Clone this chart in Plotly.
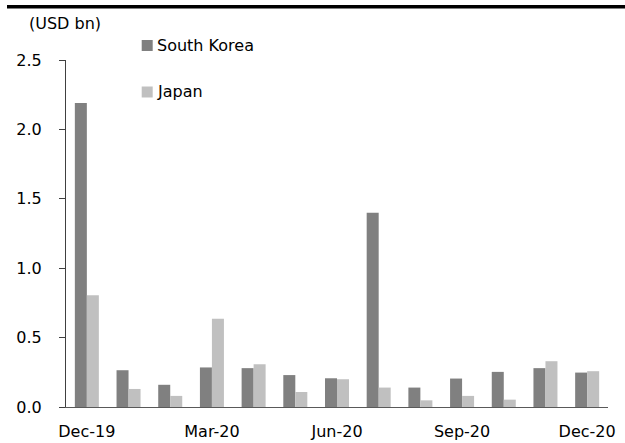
import plotly.graph_objects as go

months = ["Dec-19", "Jan-20", "Feb-20", "Mar-20", "Apr-20", "May-20", "Jun-20",
          "Jul-20", "Aug-20", "Sep-20", "Oct-20", "Nov-20", "Dec-20"]
south_korea = [2.19, 0.265, 0.16, 0.285, 0.28, 0.23, 0.207, 1.40, 0.14, 0.205, 0.253, 0.28, 0.248]
japan = [0.805, 0.13, 0.08, 0.635, 0.308, 0.108, 0.20, 0.14, 0.048, 0.08, 0.053, 0.33, 0.258]
tick_labels = ["Dec-19", "Mar-20", "Jun-20", "Sep-20", "Dec-20"]
y_ticks = [0, 0.5, 1.0, 1.5, 2.0, 2.5]

SK_COLOR = "#808080"
JP_COLOR = "#c0c0c0"
FONT = "DejaVu Sans"

fig = go.Figure()
fig.add_trace(go.Bar(x=months, y=south_korea, name="South Korea",
                     marker=dict(color=SK_COLOR, line=dict(width=0))))
fig.add_trace(go.Bar(x=months, y=japan, name="Japan",
                     marker=dict(color=JP_COLOR, line=dict(width=0))))

W, H = 625, 443
L, R, T, B = 66, 17, 60, 36
pw, ph = W - L - R, H - T - B

def px_x(x):
    return (x - L) / pw

def px_y(y):
    return (H - B - y) / ph

fig.update_layout(
    width=W, height=H,
    margin=dict(l=L, r=R, t=T, b=B, autoexpand=False),
    paper_bgcolor="white", plot_bgcolor="white",
    barmode="group", bargap=0.424, bargroupgap=0,
    showlegend=False,
    font=dict(family=FONT, size=16, color="#000000"),
    xaxis=dict(type="category", tickmode="array", tickvals=tick_labels, ticktext=tick_labels,
               showline=True, linecolor="#595959", linewidth=1, ticks="",
               showgrid=False, zeroline=False, ticklabelstandoff=10, automargin=False,
               tickfont=dict(family=FONT, size=16, color="#000000")),
    yaxis=dict(range=[0, 2.5], tickvals=y_ticks, tickformat=".1f",
               showline=True, linecolor="#404040", linewidth=1,
               ticks="outside", ticklen=6, tickcolor="#404040", tickwidth=1,
               showgrid=False, zeroline=False, ticklabelstandoff=14, automargin=False,
               tickfont=dict(family=FONT, size=16, color="#000000")),
)

# top rule
fig.add_shape(type="line", xref="paper", yref="paper",
              x0=px_x(7), x1=px_x(625), y0=px_y(6.8), y1=px_y(6.8),
              line=dict(color="#000000", width=3.5))

# unit label
fig.add_annotation(text="(USD bn)", xref="paper", yref="paper",
                   x=px_x(27), y=px_y(24), xanchor="left", yanchor="middle",
                   showarrow=False, font=dict(family=FONT, size=16, color="#000000"))

# legend
legend_items = [("South Korea", SK_COLOR, 45.5), ("Japan", JP_COLOR, 92)]
for name, color, cy in legend_items:
    fig.add_shape(type="rect", xref="paper", yref="paper",
                  x0=px_x(141.7), x1=px_x(152.7), y0=px_y(cy + 5.5), y1=px_y(cy - 5.5),
                  fillcolor=color, line=dict(width=0))
    fig.add_annotation(text=name, xref="paper", yref="paper",
                       x=px_x(155), y=px_y(cy), xanchor="left", yanchor="middle",
                       showarrow=False, font=dict(family=FONT, size=16, color="#000000"))

fig.write_html("out.html")
